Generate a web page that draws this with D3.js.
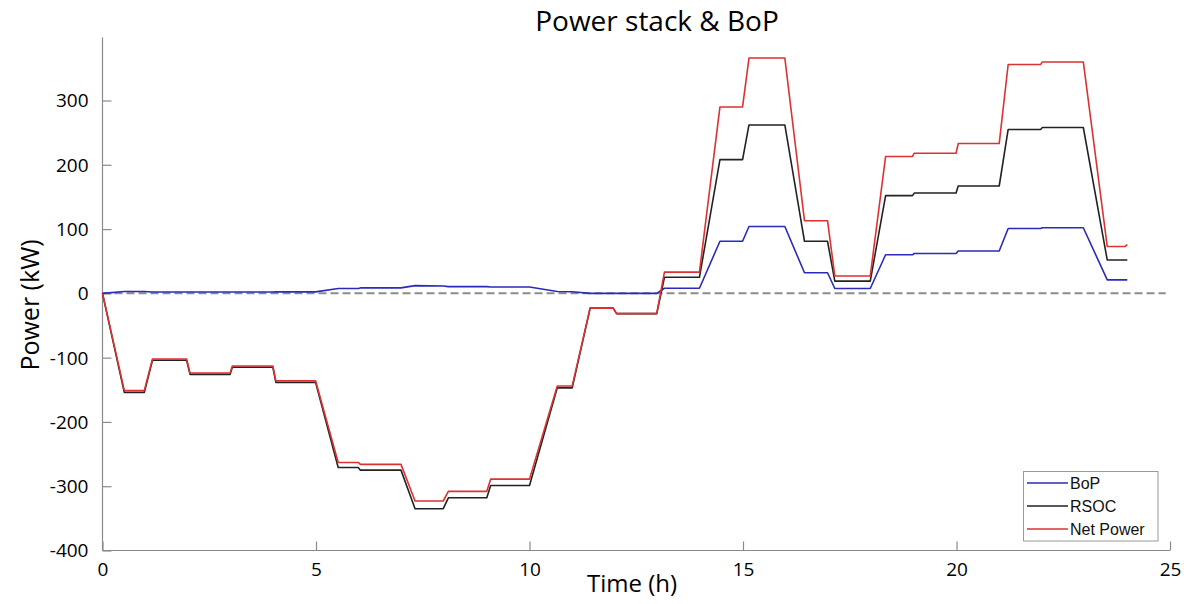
<!DOCTYPE html>
<html>
<head>
<meta charset="utf-8">
<script src="https://cdn.jsdelivr.net/npm/d3@7"></script>
<style>
  html, body { margin: 0; padding: 0; background: #fff; }
  svg { display: block; }
</style>
</head>
<body>
<svg id="chart" width="1190" height="604"></svg>
<script>
// ---- Data ----
const timeH = [0, 0.51, 0.98, 1.17, 1.97, 2.05, 2.99, 3.04, 3.99, 4.06, 4.99, 5.52, 5.99, 6.04, 6.99,
  7.32, 7.98, 8.10, 9.00, 9.09, 10.00, 10.65, 11.00, 11.42, 11.96, 12.04, 12.98, 13.16, 13.98,
  14.46, 14.99, 15.14, 15.98, 16.44, 16.98, 17.15, 17.98, 18.34, 18.97, 19.01, 19.99, 20.04,
  21.00, 21.21, 21.97, 22.01, 22.97, 23.53, 23.95, 24.00];
const bop = [0, 3, 3, 2, 2, 2, 2, 2, 2, 2.3, 2.3, 7.5, 7.5, 8.5, 8.5,
  12, 11.5, 10.5, 10.5, 10, 10, 3, 2.5, 0, 0, 0, 0, 8, 8,
  81, 81, 104, 104, 32, 32, 7.5, 7.5, 60, 60, 62, 62, 66,
  66, 101, 101, 102, 102, 21, 21, 21];
const rsoc = [0, -154, -154, -104, -104, -126, -126, -115, -115, -138.5, -138.5, -271, -271, -275, -275,
  -335, -335, -318, -318, -299, -299, -147, -147, -23, -23, -31.5, -31.5, 25, 25,
  208, 208, 262, 262, 81, 81, 19, 19, 152, 152, 156, 156, 167,
  167, 255, 255, 258, 258, 52, 52, 52];
const netPower = [0, -151, -151, -102, -102, -124, -124, -113, -113, -136, -136, -263, -263, -266, -266,
  -323, -323, -308, -308, -289, -289, -144, -144, -23, -23, -31.5, -31.5, 33, 33,
  290, 290, 366, 366, 113, 113, 27, 27, 213, 213, 218, 218, 233,
  233, 356, 356, 360, 360, 73, 73, 76];
const seriesNames = ["BoP", "RSOC", "Net Power"];
const xTickValues = [0, 5, 10, 15, 20, 25];
const yTickValues = [-400, -300, -200, -100, 0, 100, 200, 300];
const titleText = "Power stack & BoP";
const xLabelText = "Time (h)";
const yLabelText = "Power (kW)";

// ---- Layout ----
const svg = d3.select("#chart");
const plotLeft = 102.5, plotRight = 1170, plotTop = 37.5, plotBottom = 550.5;
const x = d3.scaleLinear().domain([0, 25]).range([plotLeft, plotRight]);
const y = d3.scaleLinear().domain([-400, 398]).range([plotBottom, plotTop]);
const axisColor = "#8a8a8a";
const labelFont = "'Open Sans', sans-serif";
const plainNum = d => String(d);   // hyphen-minus, as in the reference

// Zero reference dashed line
svg.append("line")
  .attr("x1", x(0)).attr("x2", x(24.9))
  .attr("y1", y(0)).attr("y2", y(0))
  .attr("stroke", "#8c8c8c").attr("stroke-width", 2)
  .attr("stroke-dasharray", "8,4");

// Axes
const yAxis = d3.axisLeft(y).tickValues(yTickValues).tickSize(-9).tickPadding(14).tickFormat(plainNum);
const xAxis = d3.axisBottom(x).tickValues(xTickValues).tickSize(-9).tickPadding(14).tickFormat(plainNum);

const gy = svg.append("g").attr("transform", `translate(${plotLeft},0)`).call(yAxis);
const gx = svg.append("g").attr("transform", `translate(0,${plotBottom})`).call(xAxis);
[gx, gy].forEach(g => {
  g.select(".domain").attr("stroke", axisColor).attr("stroke-width", 1.2);
  g.selectAll(".tick line").attr("stroke", axisColor).attr("stroke-width", 1.2);
  g.selectAll(".tick text").attr("fill", "#000").style("font-family", labelFont).style("font-size", "19px");
});
gy.selectAll(".tick text").attr("dy", "0.34em");
gx.selectAll(".tick text").attr("dy", "0.62em");
gy.select(".domain").attr("d", `M0,${plotBottom}V${plotTop}`);
gx.select(".domain").attr("d", `M${plotLeft},0H${plotRight}`);

// Lines
const series = [
  { name: seriesNames[0], values: bop, color: "#2b2bb8" },
  { name: seriesNames[1], values: rsoc, color: "#222222" },
  { name: seriesNames[2], values: netPower, color: "#dc3232" }
];
const line = d3.line().x((d, i) => x(timeH[i])).y(d => y(d));
svg.append("g").selectAll("path").data(series).join("path")
  .attr("d", s => line(s.values))
  .attr("fill", "none")
  .attr("stroke", s => s.color)
  .attr("stroke-width", 1.6)
  .attr("stroke-linejoin", "round");

// Title and labels
svg.append("text").attr("x", 657).attr("y", 31).attr("text-anchor", "middle")
  .style("font-family", labelFont).style("font-size", "28px").attr("fill", "#000").text(titleText);
svg.append("text").attr("x", 632).attr("y", 592).attr("text-anchor", "middle")
  .style("font-family", labelFont).style("font-size", "24px").attr("fill", "#000").text(xLabelText);
svg.append("text").attr("transform", "translate(39,305) rotate(-90)").attr("text-anchor", "middle")
  .style("font-family", labelFont).style("font-size", "25px").attr("fill", "#000").text(yLabelText);

// Legend
const lg = svg.append("g");
lg.append("rect").attr("x", 1023.5).attr("y", 471.5).attr("width", 134.5).attr("height", 69.5)
  .attr("fill", "#fff").attr("stroke", "#9a9a9a").attr("stroke-width", 1);
series.forEach((s, i) => {
  const ly = 483 + i * 23;
  lg.append("line").attr("x1", 1027).attr("x2", 1068).attr("y1", ly).attr("y2", ly)
    .attr("stroke", s.color).attr("stroke-width", 1.4);
  lg.append("text").attr("x", 1070).attr("y", ly).attr("dy", "0.36em")
    .style("font-family", "'Liberation Sans', Arial, sans-serif").style("font-size", "16px")
    .attr("fill", "#111").text(s.name);
});
</script>
</body>
</html>
